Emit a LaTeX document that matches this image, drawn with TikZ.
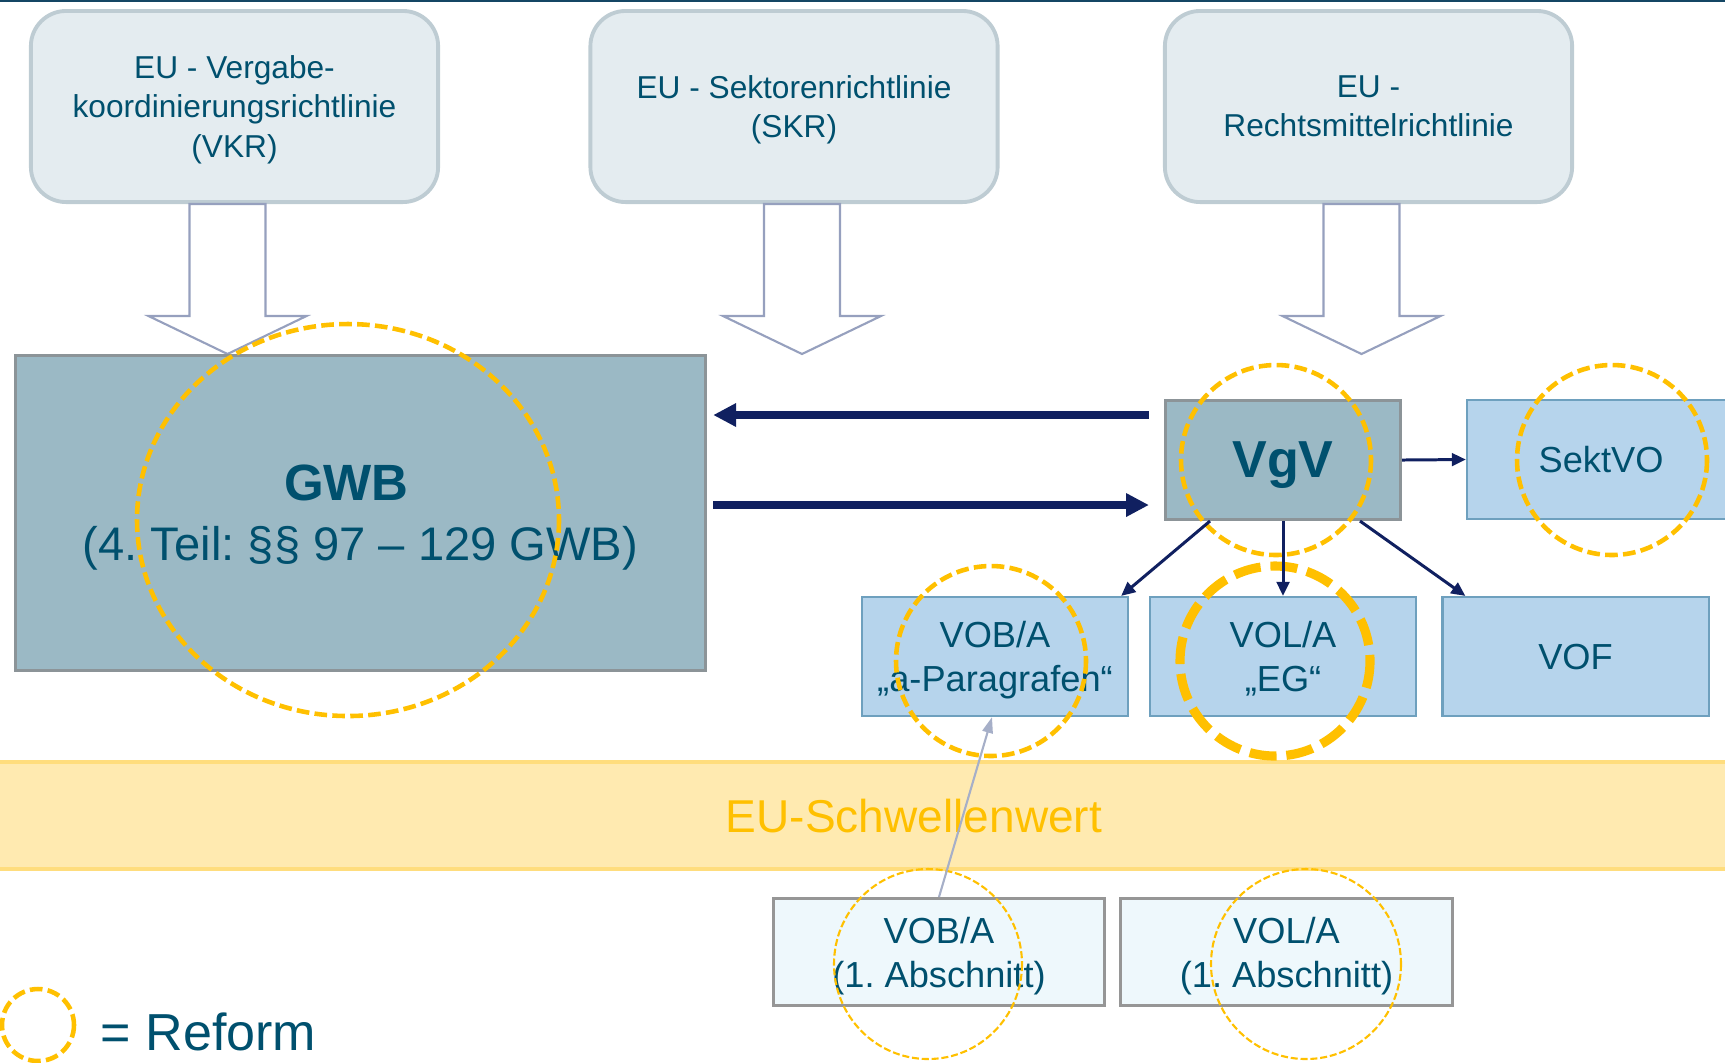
\documentclass[tikz,border=0pt]{standalone}
\usepackage{fontspec}
\setmainfont{Liberation Sans}
\usetikzlibrary{arrows.meta}
\usetikzlibrary{calc}
\frenchspacing
\definecolor{textblue}{RGB}{0,80,110}
\definecolor{topline}{RGB}{20,70,100}
\definecolor{eufill}{RGB}{228,236,240}
\definecolor{euborder}{RGB}{190,204,211}
\definecolor{blockline}{RGB}{150,160,190}
\definecolor{lawfill}{RGB}{155,185,197}
\definecolor{lawborder}{RGB}{140,148,152}
\definecolor{vofill}{RGB}{182,212,236}
\definecolor{voborder}{RGB}{110,160,190}
\definecolor{lowfill}{RGB}{238,248,252}
\definecolor{lowborder}{RGB}{150,150,150}
\definecolor{navy}{RGB}{16,32,96}
\definecolor{reformyellow}{RGB}{255,192,0}
\definecolor{bandfill}{RGB}{255,234,176}
\definecolor{bandborder}{RGB}{255,221,125}
\definecolor{grayarrow}{RGB}{166,175,200}

\begin{document}
\begin{tikzpicture}[x=0.01cm,y=-0.01cm,
  eubox/.style={draw=euborder,line width=1.1pt,fill=eufill,rounded corners=10pt,minimum width=4.07cm,minimum height=1.91cm,inner sep=0pt,align=center,text=textblue,text depth=0pt,font=\fontsize{9pt}{11.1pt}\selectfont},
  lawbox/.style={draw=lawborder,line width=0.85pt,fill=lawfill,inner sep=0pt,align=center,text=textblue,text depth=0pt},
  vobox/.style={draw=voborder,line width=0.6pt,fill=vofill,minimum width=2.66cm,minimum height=1.19cm,inner sep=0pt,align=center,text=textblue,text depth=0pt,font=\fontsize{10.3pt}{12.5pt}\selectfont},
  lowbox/.style={draw=lowborder,line width=0.85pt,fill=lowfill,minimum width=3.31cm,minimum height=1.07cm,inner sep=0pt,align=center,text=textblue,text depth=0pt,font=\fontsize{10.3pt}{12.5pt}\selectfont},
  blockarrow/.style={draw=blockline,line width=0.6pt,fill=white},
  bigarrow/.style={draw=navy,line width=2.3pt,-{Triangle[length=6.5pt,width=6.3pt]}},
  smallarrow/.style={draw=navy,line width=0.85pt,-{Triangle[length=4pt,width=3.6pt]}},
  reform/.style={draw=reformyellow,line width=1.3pt,dash pattern=on 3.6pt off 1.5pt},
  boldreform/.style={draw=reformyellow,line width=2.6pt,dash pattern=on 7.7pt off 2.8pt},
  thinreform/.style={draw=reformyellow,line width=0.6pt,dash pattern=on 2pt off 0.8pt}]
\useasboundingbox (0,0) rectangle (1725,1062);
\draw[topline,line width=0.6pt] (0,1) -- (1725,1);

% EU directives
\node[eubox] (vkr) at (234.5,106.5) {EU - Vergabe-\\koordinierungsrichtlinie\\(VKR)};
\node[eubox] (skr) at (794,106.5) {EU - Sektorenrichtlinie\\(SKR)};
\node[eubox] (rml) at (1368.5,106.5) {EU -\\Rechtsmittelrichtlinie};

\foreach \b/\d in {vkr/-7,skr/8,rml/-7}
  \draw[blockarrow] ($(\b.south)+(\d-38,0)$) -- ++(0,112) -- ++(-41,0) -- ++(79,38) -- ++(79,-38) -- ++(-41,0) -- ++(0,-112) -- cycle;

% threshold band
\node[draw=bandborder,line width=1.3pt,fill=bandfill,minimum width=19cm,minimum height=1.07cm,inner sep=0pt,text=reformyellow,text depth=0pt,font=\fontsize{13.1pt}{15pt}\selectfont] (band) at (914,815.5) {EU-Schwellenwert};

% laws
\node[lawbox,minimum width=6.9cm,minimum height=3.15cm,font=\fontsize{13.4pt}{17.1pt}\selectfont] (gwb) at (360.5,513) {{\fontsize{14.5pt}{17.1pt}\selectfont\bfseries GWB\hspace*{0.28cm}}\\(4. Teil: §§ 97 – 129 GWB)};
\node[lawbox,minimum width=2.35cm,minimum height=1.19cm,font=\fontsize{14.8pt}{17pt}\selectfont\bfseries] (vgv) at (1283,460) {VgV};

\node[vobox,minimum width=2.68cm] (sekt) at (1601,459.5) {SektVO};
\node[vobox] (vob) at (995,656.5) {VOB/A\\„a-Paragrafen“};
\node[vobox] (vol) at (1283,656.5) {VOL/A\\„EG“};
\node[vobox] (vof) at (1575.5,656.5) {VOF};

\node[lowbox] (vob1) at (939,952) {VOB/A\\(1. Abschnitt)};
\node[lowbox] (vol1) at (1286.5,952) {VOL/A\\(1. Abschnitt)};

% reform marks
\draw[reform] (348,520) ellipse [x radius=211, y radius=196];
\draw[reform] (1276,460) circle [radius=95];
\draw[reform] (1612,460) circle [radius=95];
\draw[reform] (991,661) circle [radius=95];
\draw[boldreform] (1275,661) circle [radius=95];
\draw[thinreform] (928,964) ellipse [x radius=94, y radius=95];
\draw[thinreform] (1306,964) ellipse [x radius=95, y radius=95];

\draw [bigarrow] ($(vgv.west)+(-15,-45)$) -- ($(gwb.east)+(6,-98)$);
\draw [bigarrow] ($(gwb.east)+(6,-8)$) -- ($(vgv.west)+(-15,45)$);

\draw [smallarrow] (vgv.east) -- (sekt.west);
\draw [smallarrow] ($(vgv.south)+(-73,0)$) -- ($(vob.north east)+(-8,0)$);
\draw [smallarrow] (vgv.south) -- (vol.north);
\draw [smallarrow] ($(vgv.south)+(77,0)$) -- ($(vof.north west)+(24,0)$);

\draw [grayarrow,line width=0.6pt,-{Triangle[length=4.5pt,width=3pt]}] (vob1.north) -- ($(vob.south)+(-3,0)$);

% legend
\draw[reform] (38,1025) circle [radius=36];
\node[anchor=base west,inner sep=0pt,text=textblue,font=\fontsize{14.8pt}{17pt}\selectfont] (legend) at (100,1050) {= Reform};
\end{tikzpicture}
\end{document}
